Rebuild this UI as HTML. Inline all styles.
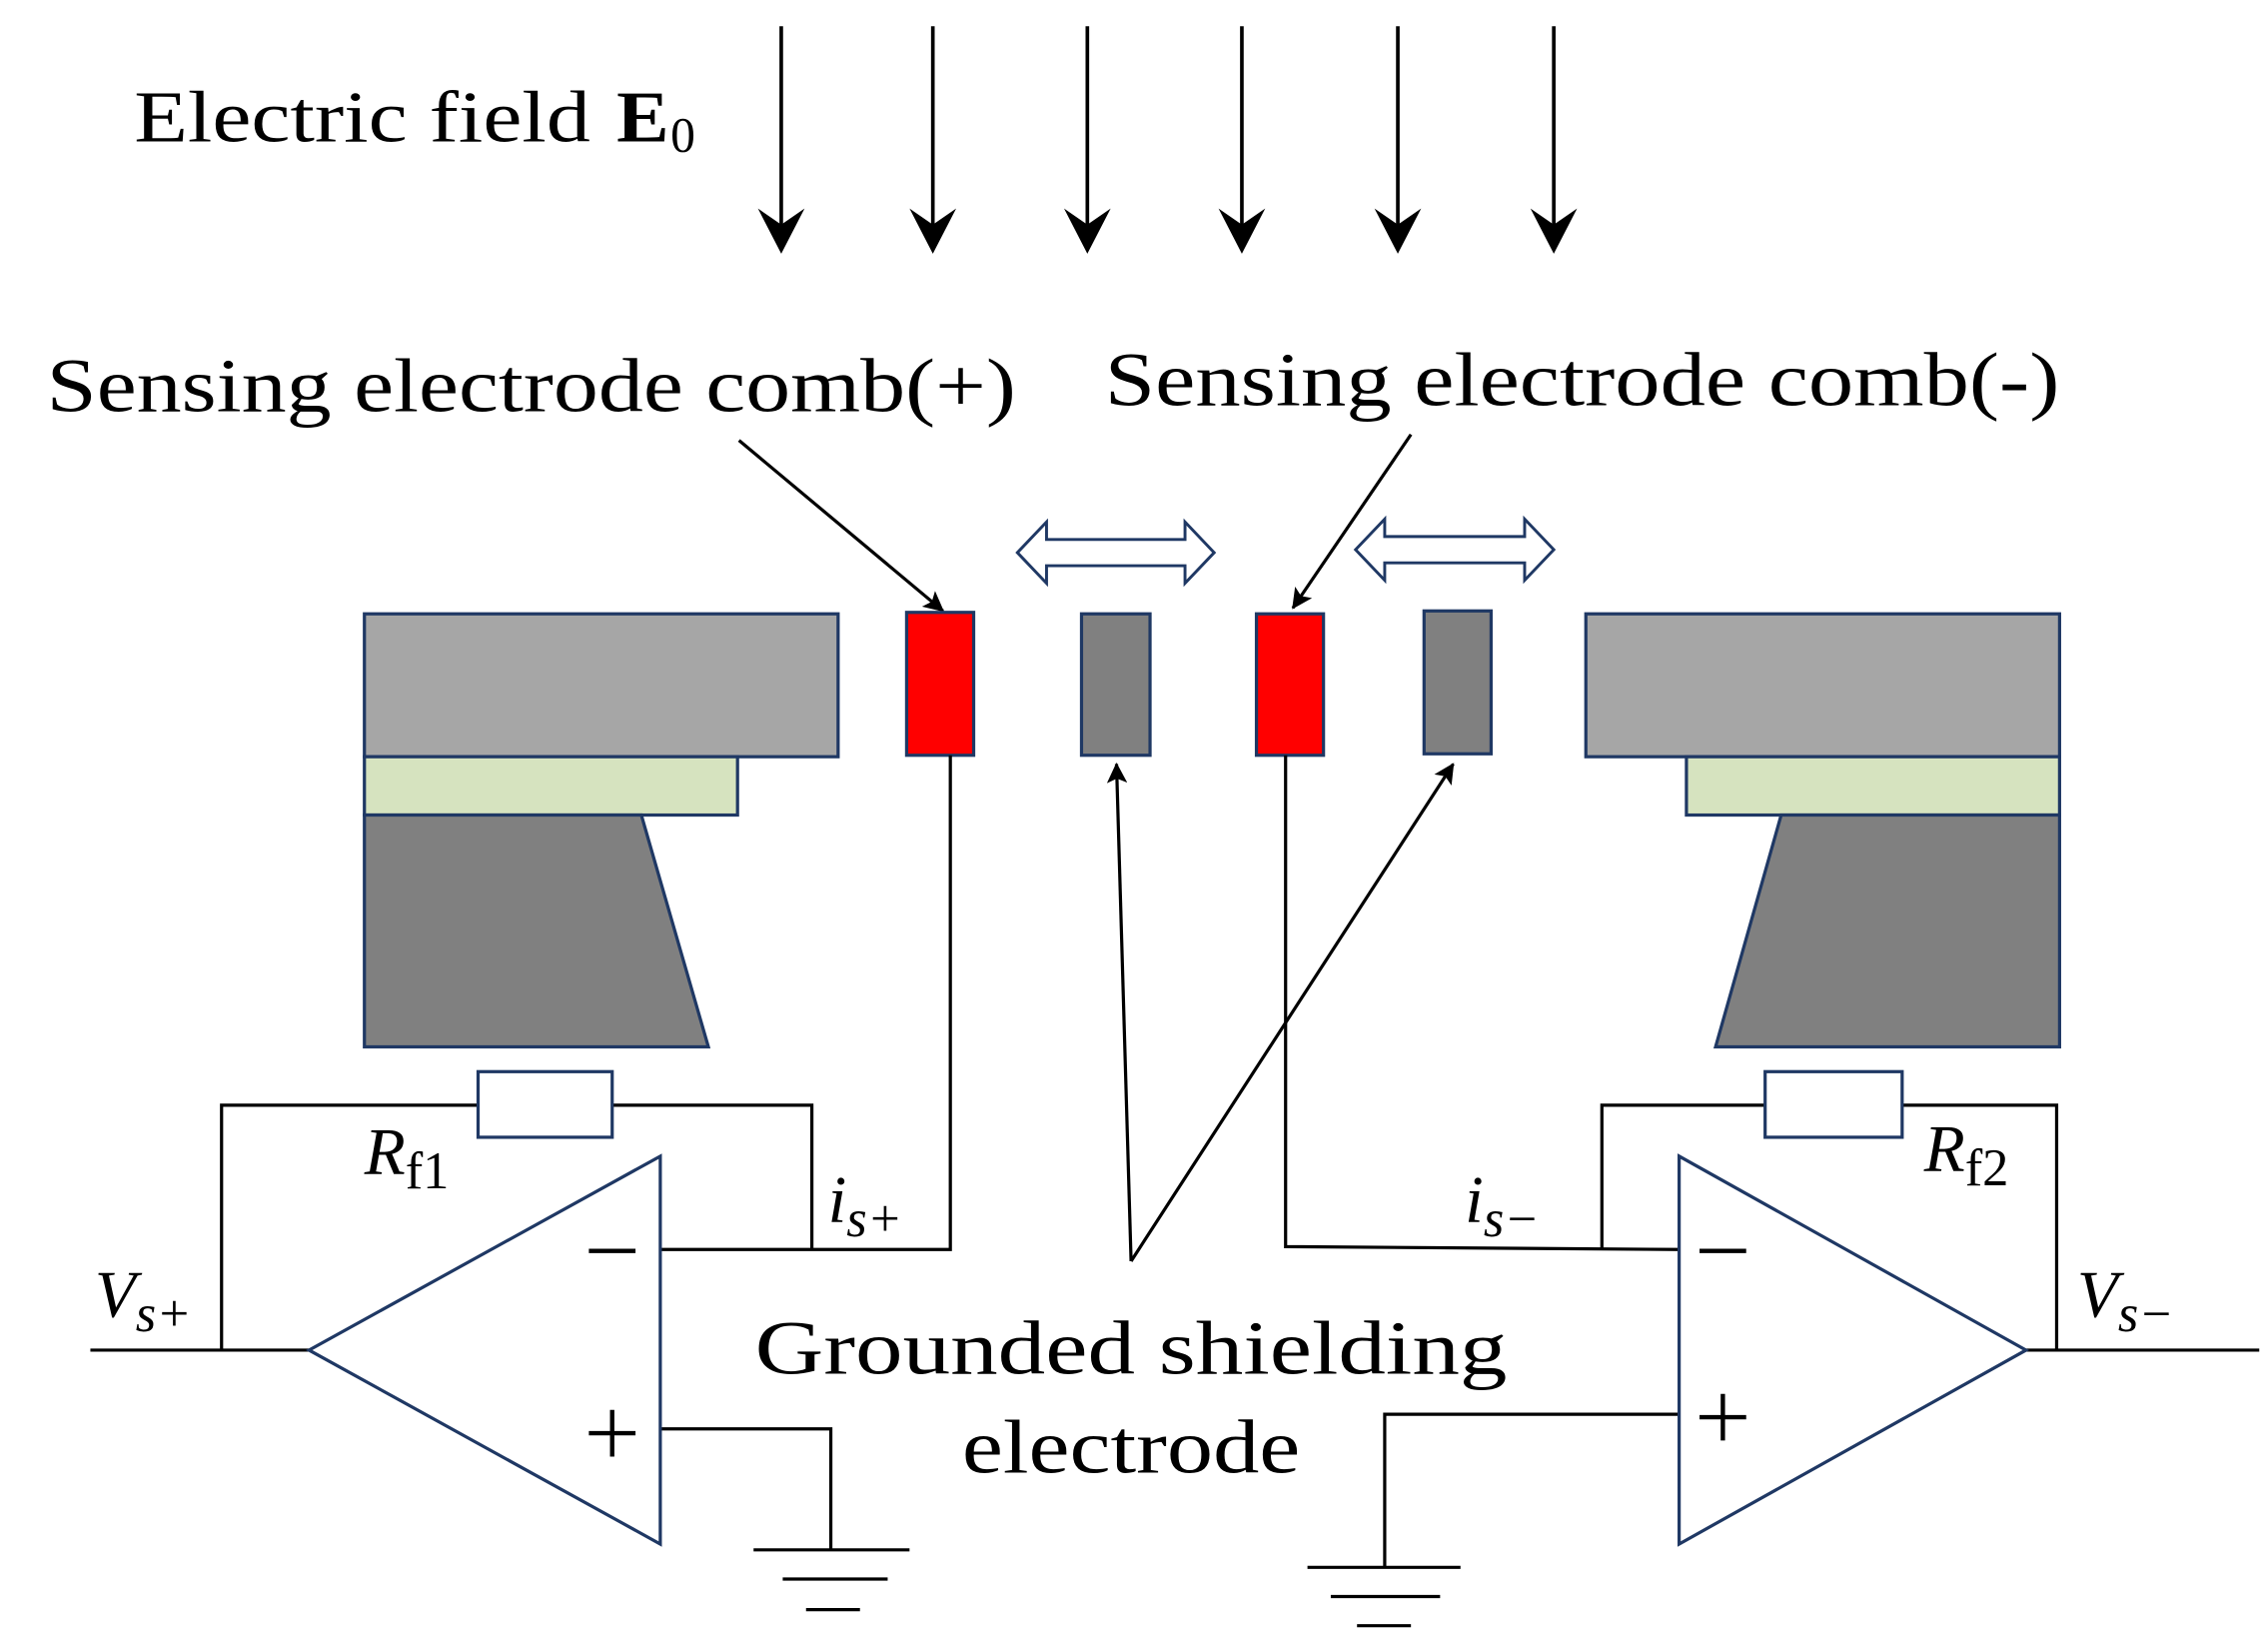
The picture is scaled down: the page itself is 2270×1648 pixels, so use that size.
<!DOCTYPE html>
<html><head><meta charset="utf-8"><style>
html,body{margin:0;padding:0;background:#fff;width:2270px;height:1648px;overflow:hidden}
svg{display:block}
text{font-family:"Liberation Serif",serif;fill:#000}
</style></head><body>
<svg width="2270" height="1648" viewBox="0 0 1556 1129.6" xmlns="http://www.w3.org/2000/svg">
<defs>
<marker id="ah" markerWidth="14" markerHeight="14" refX="13" refY="7" orient="auto" markerUnits="userSpaceOnUse" viewBox="0 0 14 14">
<path d="M0,0 L14,7 L0,14 L3,7 z" fill="#000"/></marker>
</defs>
<g stroke="#000" stroke-width="2.5" fill="none">
<line x1="536" y1="18" x2="536" y2="160"/>
<line x1="640" y1="18" x2="640" y2="160"/>
<line x1="746" y1="18" x2="746" y2="160"/>
<line x1="852" y1="18" x2="852" y2="160"/>
<line x1="959" y1="18" x2="959" y2="160"/>
<line x1="1066" y1="18" x2="1066" y2="160"/>
</g>
<g fill="#000">
<polygon points="520,143 536,174 552,143 536,154"/>
<polygon points="624,143 640,174 656,143 640,154"/>
<polygon points="730,143 746,174 762,143 746,154"/>
<polygon points="836,143 852,174 868,143 852,154"/>
<polygon points="943,143 959,174 975,143 959,154"/>
<polygon points="1050,143 1066,174 1082,143 1066,154"/>
</g>
<text x="92" y="97" font-size="50" textLength="313" lengthAdjust="spacingAndGlyphs">Electric field</text>
<text x="423" y="97" font-size="50" font-weight="bold" textLength="36" lengthAdjust="spacingAndGlyphs">E</text>
<text x="460" y="104" font-size="34">0</text>
<text x="32" y="282" font-size="52" textLength="665" lengthAdjust="spacingAndGlyphs">Sensing electrode comb(+)</text>
<text x="758" y="278" font-size="52" textLength="655" lengthAdjust="spacingAndGlyphs">Sensing electrode comb(-)</text>
<g stroke="#000" stroke-width="2.2">
<line x1="507" y1="302" x2="647" y2="419" marker-end="url(#ah)"/>
<line x1="968" y1="298" x2="887" y2="417" marker-end="url(#ah)"/>
<line x1="776" y1="865" x2="766" y2="524" marker-end="url(#ah)"/>
<line x1="776" y1="865" x2="997" y2="524" marker-end="url(#ah)"/>
</g>
<g fill="#fff" stroke="#1f3864" stroke-width="2">
<path d="M698,379 L718,358 L718,370 L813,370 L813,358 L833,379 L813,400 L813,388 L718,388 L718,400 Z"/>
<path d="M930,377 L950,356 L950,368 L1046,368 L1046,356 L1066,377 L1046,398 L1046,386 L950,386 L950,398 Z"/>
</g>
<g stroke="#1f3864" stroke-width="2.2">
<rect x="250" y="421" width="325" height="98" fill="#a6a6a6"/>
<rect x="250" y="519" width="256" height="40" fill="#d6e3bf"/>
<polygon points="250,559 440,559 486,718 250,718" fill="#808080"/>
<rect x="1088" y="421" width="325" height="98" fill="#a6a6a6"/>
<rect x="1157" y="519" width="256" height="40" fill="#d6e3bf"/>
<polygon points="1222,559 1413,559 1413,718 1177,718" fill="#808080"/>
<rect x="622" y="420" width="46" height="98" fill="#ff0000"/>
<rect x="742" y="421" width="47" height="97" fill="#808080"/>
<rect x="862" y="421" width="46" height="97" fill="#ff0000"/>
<rect x="977" y="419" width="46" height="98" fill="#808080"/>
</g>
<g stroke="#000" stroke-width="2.2" fill="none">
<polyline points="652,518 652,857 453,857"/>
<polyline points="557,857 557,758 420,758"/>
<polyline points="328,758 152,758 152,926"/>
<line x1="62" y1="926" x2="212" y2="926"/>
<polyline points="453,980 570,980 570,1063"/>
<line x1="517" y1="1063" x2="624" y2="1063"/>
<line x1="537" y1="1083" x2="609" y2="1083"/>
<line x1="553" y1="1104" x2="590" y2="1104"/>
<polyline points="882,518 882,855 1152,857"/>
<polyline points="1099,857 1099,758 1211,758"/>
<polyline points="1305,758 1411,758 1411,926"/>
<line x1="1390" y1="926" x2="1550" y2="926"/>
<polyline points="1152,970 950,970 950,1075"/>
<line x1="897" y1="1075" x2="1002" y2="1075"/>
<line x1="913" y1="1095" x2="988" y2="1095"/>
<line x1="931" y1="1115" x2="968" y2="1115"/>
</g>
<g stroke="#1f3864" stroke-width="2.2" fill="#fff">
<rect x="328" y="735" width="92" height="45"/>
<rect x="1211" y="735" width="94" height="45"/>
<polygon points="453,793 453,1059 212,926"/>
<polygon points="1152,793 1152,1059 1390,926"/>
</g>
<g stroke="#000" stroke-width="3">
<line x1="404" y1="858" x2="436" y2="858"/>
<line x1="404" y1="983" x2="436" y2="983"/><line x1="420" y1="967" x2="420" y2="999"/>
<line x1="1166" y1="858" x2="1198" y2="858"/>
<line x1="1166" y1="972" x2="1198" y2="972"/><line x1="1182" y1="956" x2="1182" y2="988"/>
</g>
<text x="518" y="942" font-size="52" textLength="516" lengthAdjust="spacingAndGlyphs">Grounded shielding</text>
<text x="660" y="1010" font-size="52" textLength="232" lengthAdjust="spacingAndGlyphs">electrode</text>
<text x="250" y="805" font-size="46" font-style="italic">R<tspan font-style="normal" font-size="36" dy="10">f1</tspan></text>
<text x="1320" y="803" font-size="46" font-style="italic">R<tspan font-style="normal" font-size="36" dy="10">f2</tspan></text>
<text x="568" y="838" font-size="46" font-style="italic">i<tspan font-size="36" dy="10">s+</tspan></text>
<text x="1005" y="838" font-size="46" font-style="italic">i<tspan font-size="36" dy="10">s−</tspan></text>
<text x="65" y="903" font-size="46" font-style="italic">V<tspan font-size="36" dy="10">s+</tspan></text>
<text x="1425" y="903" font-size="46" font-style="italic">V<tspan font-size="36" dy="10">s−</tspan></text>
</svg>
</body></html>
